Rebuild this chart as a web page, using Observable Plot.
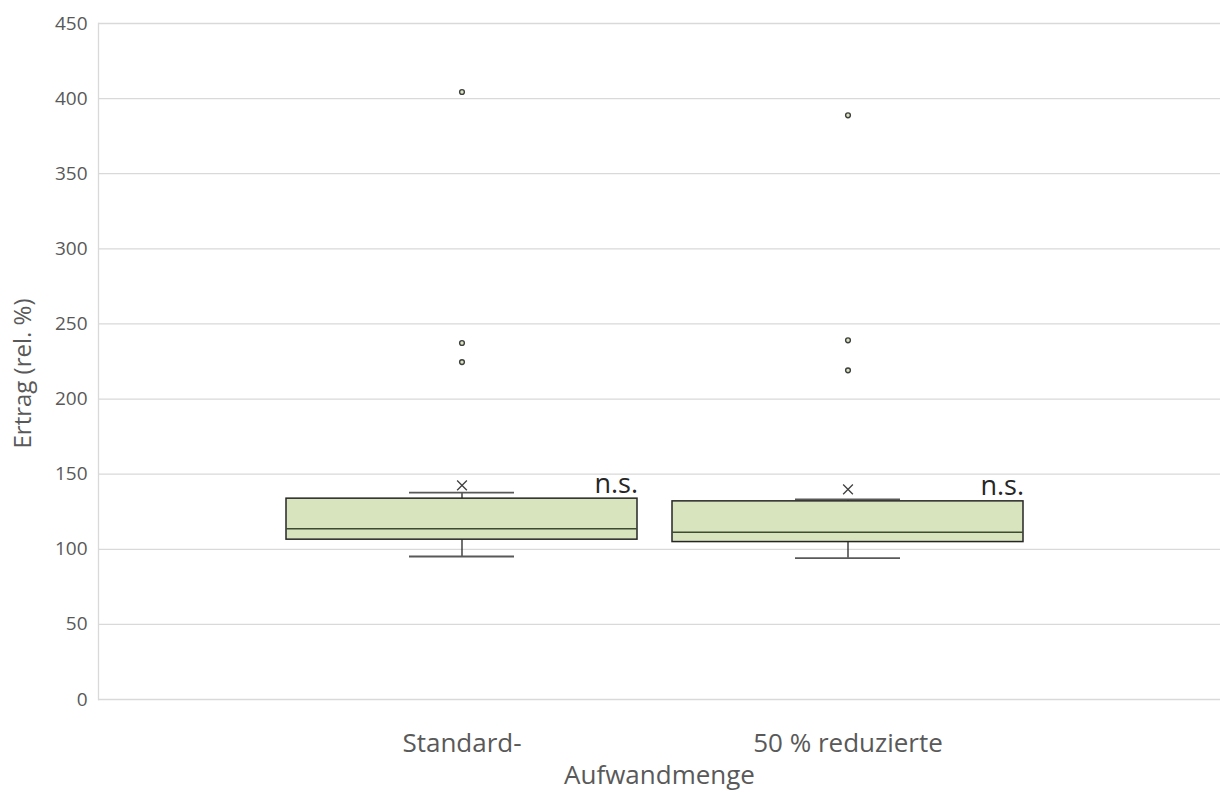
<!DOCTYPE html>
<html>
<head>
<meta charset="utf-8">
<script src="https://cdn.jsdelivr.net/npm/d3@7"></script>
<script src="https://cdn.jsdelivr.net/npm/@observablehq/plot@0.6"></script>
<style>
  html, body { margin: 0; padding: 0; background: #fff; }
  #chart { width: 1220px; height: 792px; }
  svg { font-family: "Open Sans", Lato, sans-serif; }
</style>
</head>
<body>
<div id="chart"></div>
<script>
// ---- data ----
const categories = ["Standard-", "50 % reduzierte"];
const q1 = [106.4, 104.8];
const median = [113.7, 111.4];
const q3 = [133.7, 131.9];
const whiskerLow = [95.2, 94.1];
const whiskerHigh = [137.7, 133.2];
const mean = [142.5, 139.9];
const outliers = [[404.4, 237.3, 224.6], [388.9, 239.1, 219.1]];
const annotation = ["n.s.", "n.s."];
const yTicks = [0, 50, 100, 150, 200, 250, 300, 350, 400, 450];
const yLabel = "Ertrag (rel. %)";
const xLabel = "Aufwandmenge";

// ---- tables built from arrays ----
const boxes = categories.map((c, i) => ({
  category: c, q1: q1[i], median: median[i], q3: q3[i],
  lo: whiskerLow[i], hi: whiskerHigh[i], mean: mean[i], note: annotation[i]
}));
const outlierPts = categories.flatMap((c, i) => outliers[i].map(v => ({category: c, value: v})));

const green = "#d7e4bd";
const dark = "#262626";
const grey = "#595959";

const chart = Plot.plot({
  width: 1220,
  height: 792,
  marginLeft: 98,
  marginRight: 0,
  marginTop: 23,
  marginBottom: 93,
  style: {fontFamily: "'Open Sans', Lato, sans-serif", fontSize: "19px", background: "#fff", color: grey},
  x: {domain: categories, paddingInner: 0.0905, paddingOuter: 0.496, align: 0.4875, label: null},
  y: {domain: [0, 450], label: null},
  marks: [
    Plot.gridY(yTicks, {stroke: "#d9d9d9", strokeOpacity: 1, strokeWidth: 1.3}),
    Plot.frame({anchor: "left", stroke: "#d9d9d9", strokeWidth: 1.3}),
    Plot.axisY(yTicks, {tickSize: 0, tickPadding: 11, fontSize: 19, fill: grey, label: null}),
    Plot.axisX({tickSize: 0, tickPadding: 34, fontSize: 26, fill: grey, label: null}),
    // axis titles
    Plot.text([yLabel], {frameAnchor: "left", textAnchor: "middle", lineAnchor: "middle", rotate: -90, dx: -75, dy: 12, fontSize: 24, fill: grey}),
    Plot.text([xLabel], {frameAnchor: "bottom", dy: 84, fontSize: 26, fill: grey}),
    // whisker stems
    Plot.ruleX(boxes, {x: "category", y1: "q3", y2: "hi", stroke: dark, strokeWidth: 1.3}),
    Plot.ruleX(boxes, {x: "category", y1: "lo", y2: "q1", stroke: dark, strokeWidth: 1.3}),
    // whisker caps
    Plot.tickY(boxes, {x: "category", y: "hi", stroke: grey, strokeWidth: 1.8, insetLeft: 123, insetRight: 123}),
    Plot.tickY(boxes, {x: "category", y: "lo", stroke: grey, strokeWidth: 1.8, insetLeft: 123, insetRight: 123}),
    // box
    Plot.barY(boxes, {x: "category", y1: "q1", y2: "q3", fill: green, stroke: dark, strokeWidth: 1.5}),
    // median
    Plot.tickY(boxes, {x: "category", y: "median", stroke: "#3f4a32", strokeWidth: 1.5}),
    // mean marker
    Plot.dot(boxes, {x: "category", y: "mean", symbol: "times", r: 4.5, stroke: "#404040", strokeWidth: 1.3}),
    // outliers
    Plot.dot(outlierPts, {x: "category", y: "value", r: 2.4, fill: green, stroke: "#404040", strokeWidth: 1.4}),
    // significance annotation
    Plot.text(boxes, {
      x: "category", y: "q3", text: "note", dx: 176, dy: -6,
      textAnchor: "end", lineAnchor: "bottom", fontSize: 27, fill: "#262626"
    })
  ]
});
document.getElementById("chart").appendChild(chart);
</script>
</body>
</html>
